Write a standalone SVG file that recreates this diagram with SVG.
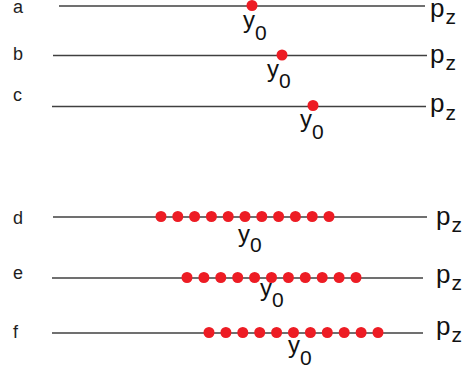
<svg xmlns="http://www.w3.org/2000/svg" width="462" height="374" viewBox="0 0 462 374">
<style>
.ln{stroke:#404040;stroke-width:1.5;fill:none}
.dot{fill:#ED1C24}
.lbl{font-family:"Liberation Sans",Arial,sans-serif;font-size:18px;fill:#1e1e1e}
.p{font-family:"Liberation Sans",Arial,sans-serif;font-size:26px;fill:#111}
.y{font-family:"Liberation Sans",Arial,sans-serif;font-size:24px;fill:#111}
.sub{font-size:21px}
</style>
<rect width="462" height="374" fill="#fff"/>
<g id="connectors">
<line class="ln" x1="59" y1="6" x2="425" y2="6"/>
<line class="ln" x1="53" y1="55.5" x2="427" y2="55.5"/>
<line class="ln" x1="52" y1="106.5" x2="426" y2="106.5"/>
<line class="ln" x1="53" y1="217" x2="427" y2="217"/>
<line class="ln" x1="52" y1="278" x2="423" y2="278"/>
<line class="ln" x1="52" y1="333" x2="423" y2="333"/>
</g>
<g id="row-a">
<text class="lbl" x="13" y="12.5">a</text>
<circle class="dot" cx="252" cy="5.5" r="5.5"/>
<text class="y" x="243" y="28">y<tspan class="sub" dy="12">0</tspan></text>
<text class="p" x="430" y="17">p<tspan class="sub" dx="1" dy="7">z</tspan></text>
</g>
<g id="row-b">
<text class="lbl" x="13" y="60">b</text>
<circle class="dot" cx="282" cy="55" r="5.5"/>
<text class="y" x="267" y="77">y<tspan class="sub" dy="11">0</tspan></text>
<text class="p" x="430" y="63">p<tspan class="sub" dx="1" dy="7">z</tspan></text>
</g>
<g id="row-c">
<text class="lbl" x="13" y="101">c</text>
<circle class="dot" cx="313" cy="105.5" r="5.5"/>
<text class="y" x="300" y="127">y<tspan class="sub" dy="12">0</tspan></text>
<text class="p" x="430" y="112">p<tspan class="sub" dx="1" dy="8">z</tspan></text>
</g>
<g id="row-d">
<text class="lbl" x="13" y="224">d</text>
<g class="dot">
<circle cx="161" cy="216.5" r="5.5"/><circle cx="177.8" cy="216.5" r="5.5"/><circle cx="194.6" cy="216.5" r="5.5"/><circle cx="211.4" cy="216.5" r="5.5"/><circle cx="228.2" cy="216.5" r="5.5"/><circle cx="245" cy="216.5" r="5.5"/><circle cx="261.8" cy="216.5" r="5.5"/><circle cx="278.6" cy="216.5" r="5.5"/><circle cx="295.4" cy="216.5" r="5.5"/><circle cx="312.2" cy="216.5" r="5.5"/><circle cx="329" cy="216.5" r="5.5"/>
</g>
<text class="y" x="238" y="242">y<tspan class="sub" dy="10">0</tspan></text>
<text class="p" x="436" y="225">p<tspan class="sub" dx="1" dy="7">z</tspan></text>
</g>
<g id="row-e">
<text class="lbl" x="13" y="279">e</text>
<g class="dot">
<circle cx="187" cy="277.5" r="5.5"/><circle cx="203.9" cy="277.5" r="5.5"/><circle cx="220.8" cy="277.5" r="5.5"/><circle cx="237.7" cy="277.5" r="5.5"/><circle cx="254.6" cy="277.5" r="5.5"/><circle cx="271.5" cy="277.5" r="5.5"/><circle cx="288.4" cy="277.5" r="5.5"/><circle cx="305.3" cy="277.5" r="5.5"/><circle cx="322.2" cy="277.5" r="5.5"/><circle cx="339.1" cy="277.5" r="5.5"/><circle cx="356" cy="277.5" r="5.5"/>
</g>
<text class="y" x="260" y="296">y<tspan class="sub" dy="11">0</tspan></text>
<text class="p" x="436" y="283">p<tspan class="sub" dx="1" dy="7">z</tspan></text>
</g>
<g id="row-f">
<text class="lbl" x="13" y="338">f</text>
<g class="dot">
<circle cx="209" cy="332.5" r="5.5"/><circle cx="225.9" cy="332.5" r="5.5"/><circle cx="242.8" cy="332.5" r="5.5"/><circle cx="259.7" cy="332.5" r="5.5"/><circle cx="276.6" cy="332.5" r="5.5"/><circle cx="293.5" cy="332.5" r="5.5"/><circle cx="310.4" cy="332.5" r="5.5"/><circle cx="327.3" cy="332.5" r="5.5"/><circle cx="344.2" cy="332.5" r="5.5"/><circle cx="361.1" cy="332.5" r="5.5"/><circle cx="378" cy="332.5" r="5.5"/>
</g>
<text class="y" x="288" y="353">y<tspan class="sub" dy="12">0</tspan></text>
<text class="p" x="436" y="335">p<tspan class="sub" dx="1" dy="7">z</tspan></text>
</g>
</svg>
